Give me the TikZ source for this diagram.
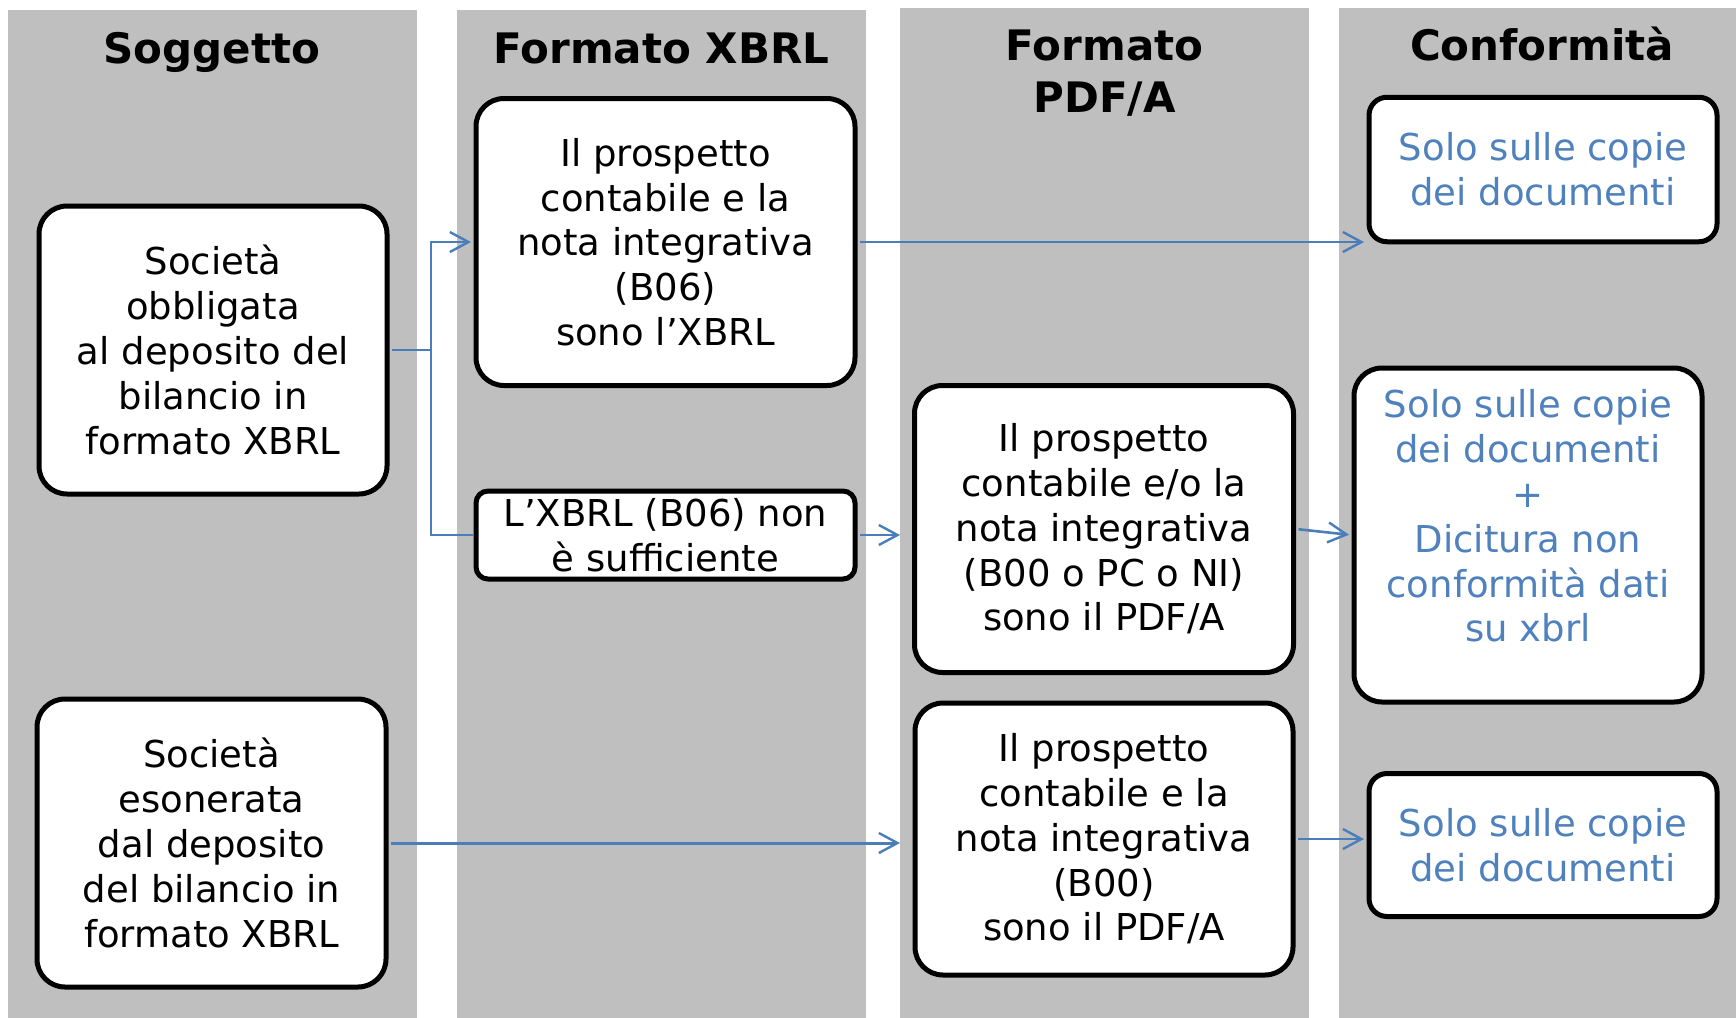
\documentclass[tikz,border=0pt]{standalone}
\usepackage{fontspec}
\setmainfont{DejaVu Sans}
\usetikzlibrary{arrows.meta}
\definecolor{colgray}{HTML}{BFBFBF}
\definecolor{txtblue}{HTML}{4F81BD}
\definecolor{conblue}{HTML}{4A7EBB}
\begin{document}
\begin{tikzpicture}[x=0.5pt,y=-0.5pt,
  lane/.style={fill=colgray,draw=none},
  hdr/.style={font=\fontsize{21}{26}\selectfont\bfseries, anchor=base, inner sep=0pt},
  box/.style={draw=black, line width=2.5pt, fill=white, rounded corners=14pt, inner sep=0pt, align=center, font=\fontsize{18.5}{22.4}\selectfont},
  bluetxt/.style={text=txtblue},
  conn/.style={draw=conblue, line width=1.3pt, shorten <=1.25pt},
  arr/.style={conn, shorten >=1.25pt, -{Straight Barb[length=9.3pt,width=10pt,line width=1.2pt]}}
]
\useasboundingbox (0,0) rectangle (1736,1018);
\fill[white] (0,0) rectangle (1736,1018);
% lanes
\fill[lane] (8,10) rectangle (416.7,1018);
\fill[lane] (457,10) rectangle (866,1018);
\fill[lane] (900,8) rectangle (1309,1018);
\fill[lane] (1339,8) rectangle (1736,1018);
% headers
\node[hdr] (h1) at (212,63) {Soggetto};
\node[hdr] (h2) at (661.5,63) {Formato XBRL};
\node[hdr] (h3a) at (1104.5,60) {Formato};
\node[hdr] (h3b) at (1104.5,112) {PDF/A};
\node[hdr] (h4) at (1542,60) {Conformità};
% boxes
\node[box, minimum width=174pt, minimum height=144pt] (A) at (213,350)
  {Società\\obbligata\\al deposito del\\bilancio in\\formato XBRL};
\node[box, minimum width=174.5pt, minimum height=144pt] (E) at (211.5,843)
  {Società\\esonerata\\dal deposito\\del bilancio in\\formato XBRL};
\node[box, minimum width=189.5pt, minimum height=143.5pt] (B) at (665.5,242)
  {Il prospetto\\contabile e la\\nota integrativa\\(B06)\\sono l’XBRL};
\node[box, minimum width=189.5pt, minimum height=44pt, rounded corners=6pt] (C) at (665.5,535)
  {L’XBRL (B06) non\\è sufficiente};
\node[box, minimum width=189.5pt, minimum height=143.5pt] (D) at (1104,529)
  {Il prospetto\\contabile e/o la\\nota integrativa\\(B00 o PC o NI)\\sono il PDF/A};
\node[box, minimum width=189pt, minimum height=136pt] (F) at (1104,839)
  {Il prospetto\\contabile e la\\nota integrativa\\(B00)\\sono il PDF/A};
\node[box, bluetxt, minimum width=174pt, minimum height=72.25pt, rounded corners=9pt] (G) at (1543,169.5)
  {Solo sulle copie\\dei documenti};
\node[box, minimum width=174pt, minimum height=167pt] (H) at (1528,535) {};
\node[align=center, inner sep=0pt, text=txtblue, font=\fontsize{18.5}{22.4}\selectfont] (Ht) at (1528,516)
  {Solo sulle copie\\dei documenti\\+\\Dicitura non\\conformità dati\\su xbrl};
\node[box, bluetxt, minimum width=174pt, minimum height=71.5pt, rounded corners=9pt] (I) at (1543,845)
  {Solo sulle copie\\dei documenti};
% connector end points at the edge of the PDF/A lane
\coordinate (J) at (431,350);
\coordinate (L3) at (900,0);
% connectors
\draw[conn, line width=1pt] (A.east) -- (J);
\draw[arr, line width=1pt, shorten <=0pt] (J) |- (B.west);
\draw[conn, line width=1pt, shorten <=0pt] (J) |- (C.west);
\draw[arr] (B.east) -- (B.east -| G.west);
\draw[arr, shorten >=0pt] (C.east) -- (C.east -| L3);
\draw[arr] (D.east) -- (H.west);
\draw[arr, line width=1.5pt, shorten >=0pt] (E.east) -- (E.east -| L3);
\draw[arr] (F.east) -- (F.east -| I.west);
\end{tikzpicture}
\end{document}
